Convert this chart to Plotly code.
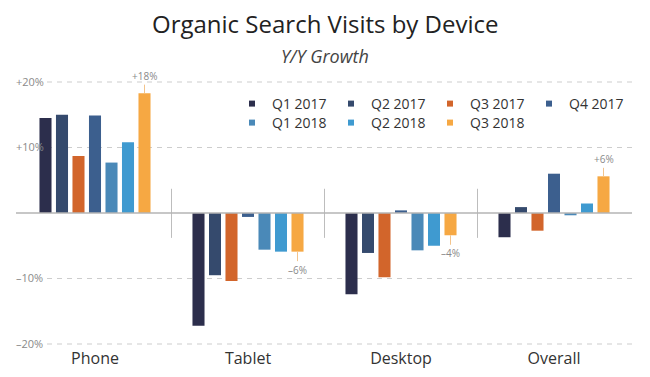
import plotly.graph_objects as go

categories = ["Phone", "Tablet", "Desktop", "Overall"]
series_names = ["Q1 2017", "Q2 2017", "Q3 2017", "Q4 2017", "Q1 2018", "Q2 2018", "Q3 2018"]
q1_2017 = [14.5, -17.2, -12.4, -3.7]
q2_2017 = [15.0, -9.5, -6.1, 0.9]
q3_2017 = [8.7, -10.4, -9.8, -2.7]
q4_2017 = [14.9, -0.6, 0.4, 6.0]
q1_2018 = [7.7, -5.6, -5.7, -0.35]
q2_2018 = [10.8, -5.9, -5.0, 1.45]
q3_2018 = [18.3, -5.9, -3.4, 5.6]
series_values = [q1_2017, q2_2017, q3_2017, q4_2017, q1_2018, q2_2018, q3_2018]
colors = ["#2c2e4c", "#354a6d", "#d2652b", "#3c5f8e", "#4a89b8", "#3f9ad0", "#f6a843"]

tick_vals = [-20, -10, 10, 20]
tick_text = ["\u201320%", "\u201310%", "+10%", "+20%"]

# labels for Q3 2018 bars
callout_text = ["+18%", "\u20136%", "\u20134%", "+6%"]

FONT = "Open Sans"
BARGAP = 0.245
n = len(series_names)

# figure geometry (page has an 8px body margin)
FW, FH = 642, 369
PAD = 10  # px of extra room above +20% and below -20%
L, R, T, B = 5, 18, 74 - PAD, 33 - PAD
PW, PH = FW - L - R, FH - T - B
YSPAN = 40 * PH / (PH - 2 * PAD) / 2


def px_x(x):
    return (x - L) / PW


def px_y(y):
    return (FH - B - y) / PH


fig = go.Figure()
for i, (name, vals, c) in enumerate(zip(series_names, series_values, colors)):
    fig.add_trace(go.Bar(
        x=categories, y=vals, name=name, marker=dict(color=c, line=dict(width=0)),
        showlegend=False, hoverinfo="skip",
    ))
# legend entries (small square swatches)
for i, (name, c) in enumerate(zip(series_names, colors)):
    fig.add_trace(go.Scatter(
        x=[None], y=[None], mode="markers", name=name,
        marker=dict(symbol="square", size=6, color=c),
        legend="legend" if i < 4 else "legend2",
    ))

# callout annotations on the Q3 2018 bars
slot = (1 - BARGAP) / n
offset = (n - 1 - (n - 1) / 2) * slot
for ci, (cat, val, txt) in enumerate(zip(categories, q3_2018, callout_text)):
    fig.add_annotation(
        x=ci + offset, y=val, xref="x", yref="y",
        text=txt, showarrow=True, arrowhead=0, arrowwidth=1,
        arrowcolor="#f3c48c", ax=0, ay=-17 if val > 0 else 18,
        font=dict(family=FONT, size=10, color="#8a8a8a"),
    )

# dashed gridlines (start right after the tick labels)
for v in tick_vals:
    fig.add_shape(type="line", xref="paper", yref="y", x0=px_x(39), x1=1, y0=v, y1=v,
                  line=dict(color="#cdcdcd", width=1, dash="5px,5px"), layer="below")

# separators between groups
for s in [0.5, 1.5, 2.5]:
    fig.add_shape(type="line", xref="x", yref="y", x0=s, x1=s, y0=-3.8, y1=3.7,
                  line=dict(color="#bdbdbd", width=1))

# zero baseline
fig.add_shape(type="line", xref="paper", yref="y", x0=px_x(8), x1=1, y0=0, y1=0,
              line=dict(color="#b5b5b5", width=1.5))

fig.add_annotation(x=px_x(317), y=px_y(16), xref="paper", yref="paper", yanchor="middle",
                   text="Organic Search Visits by Device", showarrow=False,
                   font=dict(family=FONT, size=24, color="#222222"))
fig.add_annotation(x=px_x(317), y=px_y(48), xref="paper", yref="paper", yanchor="middle",
                   text="<i>Y/Y Growth</i>", showarrow=False,
                   font=dict(family=FONT, size=18, color="#444444"))

leg_common = dict(orientation="h", xanchor="left", yanchor="middle",
                  font=dict(family=FONT, size=14, color="#333333"),
                  entrywidth=54, entrywidthmode="pixels", bgcolor="rgba(0,0,0,0)",
                  itemclick=False, itemdoubleclick=False)

fig.update_layout(
    width=FW, height=FH,
    margin=dict(l=L, r=R, t=T, b=B),
    paper_bgcolor="white", plot_bgcolor="white",
    barmode="group", bargap=BARGAP, bargroupgap=0.27,
    showlegend=True,
    legend=dict(x=px_x(224), y=px_y(96), **leg_common),
    legend2=dict(x=px_x(224), y=px_y(115), **leg_common),
    xaxis=dict(type="category", range=[(L - 87) / 153, (FW - R - 87) / 153],
               showgrid=False, zeroline=False, showline=False, ticks="",
               ticklabelstandoff=-7,
               tickfont=dict(family=FONT, size=16, color="#333333")),
    yaxis=dict(range=[-YSPAN, YSPAN], tickvals=tick_vals, ticktext=tick_text,
               showgrid=False, zeroline=False, showline=False, ticks="",
               ticklabelposition="inside",
               tickfont=dict(family=FONT, size=11, color="#8a8a8a")),
    font=dict(family=FONT),
)

fig.write_html("out.html")
